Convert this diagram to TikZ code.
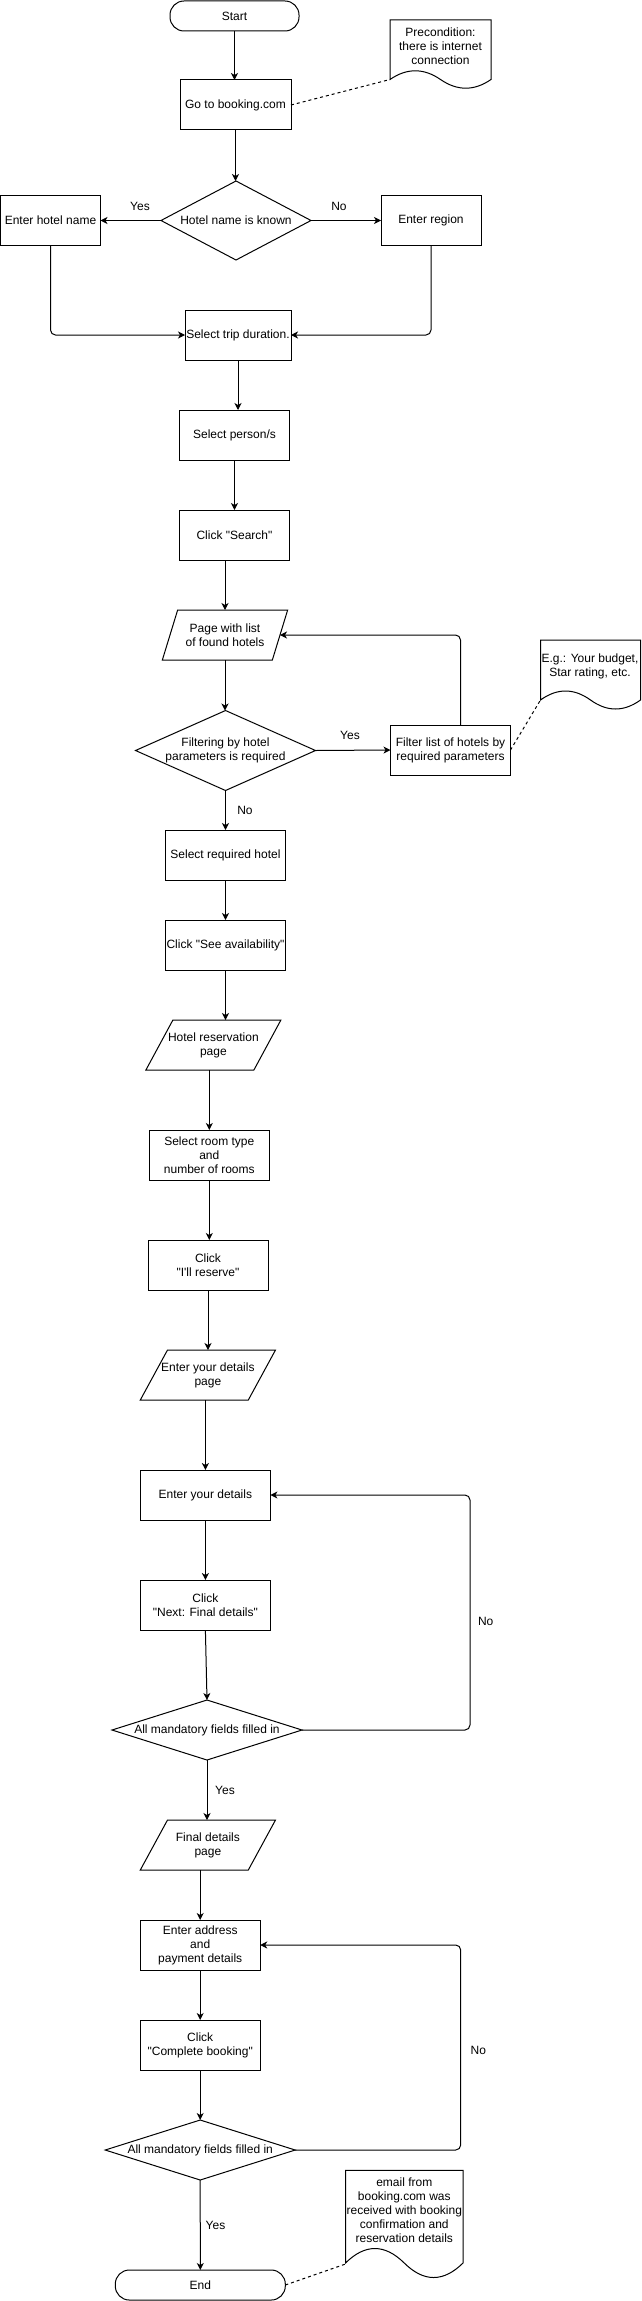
\documentclass[tikz,border=0pt]{standalone}
\usepackage{fontspec}
\setmainfont{Liberation Sans}
\newfontfamily\diagfont{Liberation Sans}
\usetikzlibrary{shapes.geometric,arrows.meta,calc}
\newcommand\myfs{\diagfont\fontsize{12}{14}\selectfont}
\newcommand\mydocshape[5]{% x0, ytop, x1, ybottom-of-sides, wave
  \draw[line] (#1,#2) -- (#3,#2) -- (#3,#4)
   .. controls ({#1+5*(#3-#1)/6},{#4+2*#5/3}) and ({#1+4*(#3-#1)/6},{#4+2*#5/3}) .. ({(#1+#3)/2},#4)
   .. controls ({#1+2*(#3-#1)/6},{#4-2*#5/3}) and ({#1+(#3-#1)/6},{#4-2*#5/3}) .. (#1,#4) -- cycle;}
\newcommand\paraoutline[2]{%
  \draw[line] ([xshift=#2pt]#1.north west) -- ([xshift=#2pt]#1.north east)
   -- ([xshift=-#2pt]#1.south east) -- ([xshift=-#2pt]#1.south west) -- cycle;}
\tikzset{
  line/.style={draw=black, line width=1pt},
  box/.style={line, rectangle, minimum width=120pt, minimum height=50pt, inner sep=0pt, outer sep=0pt, align=center, font=\myfs},
  term/.style={box, rounded corners=14pt, minimum height=30pt},
  dia/.style={line, diamond, inner sep=0pt, outer sep=0pt},
  txt/.style={font=\myfs, align=center, inner sep=0pt},
  para/.style={rectangle, minimum height=50pt, inner sep=0pt, outer sep=0pt, align=center, font=\myfs},
  arr/.style={line, -{Stealth[length=7pt,width=7pt,inset=2pt]}},
  elb/.style={arr, rounded corners=5pt},
  dsh/.style={line, dash pattern=on 3pt off 3pt},
}
\begin{document}
\begin{tikzpicture}[x=1pt,y=-1pt]
\useasboundingbox (0,0) rectangle (641,2301);

% nodes
\node[term, minimum width=129pt] (start) at (234.5,16) {Start};
\node[box, minimum width=111pt] (go) at (235.5,105) {Go to booking.com};
\node[dia, minimum width=150pt, minimum height=79pt, label={[txt]center:Hotel name is known}] (d1) at (236,220.5) {};
\node[box, minimum width=100pt] (hotel) at (50.5,220.5) {Enter hotel name};
\node[box, minimum width=100pt] (region) at (431,220.5) {Enter region};
\node[box, minimum width=106pt] (trip) at (238,335) {Select trip duration.};
\node[box, minimum width=110pt] (person) at (234.5,435) {Select person/s};
\node[box, minimum width=110pt] (search) at (234.5,535) {Click "Search"};
\node[para, minimum width=110pt] (p1) at (225,635) {Page with list\\of found hotels};
\paraoutline{p1}{7.65}
\node[dia, minimum width=180pt, minimum height=80pt, label={[txt]center:{Filtering by hotel\\parameters is required}}] (d2) at (225.5,750.5) {};
\node[box] (filter) at (450.5,750) {Filter list of hotels by\\required parameters};
\node[box] (selhotel) at (225.5,855) {Select required hotel};
\node[box] (avail) at (225.5,945) {Click "See availability"};
\node[para, minimum width=108pt] (resp) at (213.4,1045) {Hotel reservation\\page};
\paraoutline{resp}{13.5}
\node[box] (room) at (209.3,1155) {Select room type\\and\\number of rooms};
\node[box] (reserve) at (208,1265) {Click\\"I'll reserve"};
\node[para, minimum width=108pt] (detpage) at (207.9,1375) {Enter your details\\page};
\paraoutline{detpage}{13.6}
\node[box, minimum width=130pt] (details) at (205.4,1495) {Enter your details};
\node[box, minimum width=130pt] (next) at (205.4,1605) {Click\\"Next: Final details"};
\node[dia, minimum width=190pt, minimum height=60pt, label={[txt]center:All mandatory fields filled in}] (d3) at (207,1730) {};
\node[para, minimum width=108pt] (finpage) at (207.9,1845) {Final details\\page};
\paraoutline{finpage}{13.6}
\node[box] (address) at (200.2,1945) {Enter address\\and\\payment details};
\node[box] (complete) at (200.2,2045) {Click\\"Complete booking"};
\node[dia, minimum width=190pt, minimum height=60pt, label={[txt]center:All mandatory fields filled in}] (d4) at (200.2,2150) {};
\node[term, minimum width=170pt] (end) at (200.3,2285) {End};

% notes
\mydocshape{390}{20}{491}{79.5}{17.4}
\node[txt] (pre) at (440.5,46) {Precondition:\\there is internet\\connection};
\coordinate (preA) at (390,79.5);
\mydocshape{540.5}{640}{640.5}{700}{18}
\node[txt] (eg) at (590,666) {E.g.: Your budget,\\Star rating, etc.};
\coordinate (egA) at (540.5,700);
\mydocshape{345.5}{2170.3}{463}{2263}{29}
\node[txt] (mail) at (404.3,2209.7) {email from\\booking.com was\\received with booking\\confirmation and\\reservation details};
\coordinate (mailA) at (345.5,2264);

% labels
\node[txt] (l1) at (140,206) {Yes};
\node[txt] (l2) at (339,206) {No};
\node[txt] (l3) at (350,735) {Yes};
\node[txt] (l4) at (245,810.7) {No};
\node[txt] (l5) at (485.7,1621) {No};
\node[txt] (l6) at (225,1790) {Yes};
\node[txt] (l7) at (478.3,2050.7) {No};
\node[txt] (l8) at (215.5,2225.7) {Yes};

% connectors
\draw[arr] (start.south) -- (start.south |- go.north);
\draw[arr] (go.south) -- (go.south |- d1.north);
\draw[arr] (d1.west) -- (hotel.east);
\draw[arr] (d1.east) -- (region.west);
\draw[elb] (hotel.south) |- (trip.west);
\draw[elb] (region.south) |- (trip.east);
\draw[arr] (trip.south) -- (trip.south |- person.north);
\draw[arr] (person.south) -- (search.north);
\draw[arr] (p1.north |- search.south) -- (p1.north);
\draw[arr] (p1.south) -- (p1.south |- d2.north);
\draw[arr] (d2.east) -- (filter.west);
\draw[elb] ([xshift=10pt]filter.north) |- (p1.east);
\draw[arr] (d2.south) -- (selhotel.north);
\draw[arr] (selhotel.south) -- (avail.north);
\draw[arr] (avail.south) -- (avail.south |- resp.north);
\draw[arr] (room.north |- resp.south) -- (room.north);
\draw[arr] (room.south) -- (room.south |- reserve.north);
\draw[arr] (reserve.south) -- (reserve.south |- detpage.north);
\draw[arr] (details.north |- detpage.south) -- (details.north);
\draw[arr] (details.south) -- (next.north);
\draw[arr] (next.south) -- (d3.north);
\coordinate (c1) at (470,1730);
\draw[elb] (d3.east) -- (c1) |- (details.east);
\draw[arr] (d3.south) -- (d3.south |- finpage.north);
\draw[arr] (address.north |- finpage.south) -- (address.north);
\draw[arr] (address.south) -- (complete.north);
\draw[arr] (complete.south) -- (d4.north);
\coordinate (c2) at (460.7,2150);
\draw[elb] (d4.east) -- (c2) |- (address.east);
\draw[arr] (d4.south) -- (end.north);

% dashed
\draw[dsh] (go.east) -- (preA);
\draw[dsh] (filter.east) -- (egA);
\draw[dsh] (end.east) -- (mailA);
\end{tikzpicture}
\end{document}
